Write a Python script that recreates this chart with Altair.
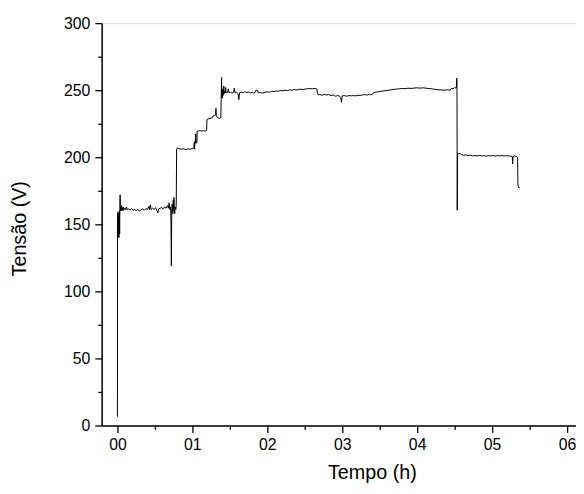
import altair as alt
import pandas as pd

hours = [
    0.000, 0.002, 0.010, 0.015, 0.020, 0.025, 0.030, 0.033, 0.036, 0.040,
    0.045, 0.050, 0.055, 0.060, 0.070, 0.075, 0.080, 0.090, 0.100, 0.110,
    0.120, 0.130, 0.150, 0.170, 0.190, 0.210, 0.230, 0.250, 0.270, 0.290,
    0.310, 0.330, 0.360, 0.380, 0.400, 0.420, 0.430, 0.440, 0.450, 0.470,
    0.490, 0.510, 0.530, 0.540, 0.550, 0.570, 0.590, 0.610, 0.630, 0.650,
    0.670, 0.680, 0.690, 0.700, 0.710, 0.715, 0.720, 0.725, 0.730, 0.740,
    0.745, 0.750, 0.755, 0.760, 0.765, 0.770, 0.780, 0.785, 0.790, 0.800,
    0.820, 0.850, 0.880, 0.910, 0.940, 0.970, 1.000, 1.020, 1.025, 1.030,
    1.035, 1.040, 1.045, 1.050, 1.060, 1.065, 1.080, 1.100, 1.120, 1.150,
    1.180, 1.190, 1.195, 1.210, 1.240, 1.270, 1.280, 1.300, 1.310, 1.315,
    1.320, 1.330, 1.340, 1.360, 1.380, 1.385, 1.390, 1.393, 1.396, 1.400,
    1.405, 1.410, 1.415, 1.420, 1.425, 1.430, 1.440, 1.445, 1.450, 1.470,
    1.480, 1.490, 1.510, 1.530, 1.550, 1.560, 1.570, 1.590, 1.610, 1.620,
    1.630, 1.650, 1.680, 1.700, 1.720, 1.750, 1.780, 1.800, 1.820, 1.840,
    1.850, 1.870, 1.880, 1.910, 1.940, 1.970, 2.000, 2.030, 2.060, 2.090,
    2.120, 2.150, 2.180, 2.210, 2.240, 2.270, 2.300, 2.330, 2.360, 2.400,
    2.440, 2.480, 2.520, 2.560, 2.600, 2.640, 2.660, 2.670, 2.680, 2.700,
    2.730, 2.760, 2.790, 2.820, 2.850, 2.880, 2.910, 2.940, 2.960, 2.980,
    2.990, 3.000, 3.030, 3.060, 3.090, 3.120, 3.150, 3.180, 3.210, 3.240,
    3.270, 3.300, 3.330, 3.360, 3.380, 3.400, 3.420, 3.440, 3.480, 3.520,
    3.560, 3.600, 3.640, 3.680, 3.720, 3.760, 3.800, 3.840, 3.880, 3.920,
    3.960, 4.000, 4.040, 4.080, 4.120, 4.160, 4.200, 4.240, 4.280, 4.320,
    4.360, 4.400, 4.440, 4.460, 4.480, 4.500, 4.520, 4.525, 4.530, 4.532,
    4.535, 4.540, 4.550, 4.570, 4.590, 4.620, 4.650, 4.680, 4.710, 4.740,
    4.770, 4.800, 4.830, 4.860, 4.890, 4.920, 4.950, 4.980, 5.010, 5.040,
    5.070, 5.100, 5.130, 5.160, 5.190, 5.220, 5.250, 5.270, 5.275, 5.280,
    5.300, 5.330, 5.340, 5.345, 5.350, 5.360, 5.370,
]

volts = [
    6.5, 159.0, 141.0, 158.0, 140.0, 160.0, 143.0, 162.0, 172.0, 160.0,
    163.0, 160.0, 164.0, 161.0, 162.5, 160.0, 163.0, 161.0, 162.0, 161.0,
    163.0, 161.0, 161.5, 160.8, 161.5, 160.5, 161.0, 160.3, 161.0, 160.0,
    160.5, 161.5, 160.5, 161.8, 161.0, 163.5, 161.0, 164.5, 161.0, 162.0,
    161.0, 162.5, 160.0, 158.5, 161.5, 162.0, 162.5, 161.5, 163.0, 162.0,
    164.0, 162.0, 166.0, 161.0, 163.0, 150.0, 119.0, 160.0, 165.0, 158.0,
    168.0, 160.0, 170.0, 162.0, 158.0, 163.0, 161.0, 164.0, 206.0, 207.0,
    206.5, 206.0, 206.3, 205.8, 206.2, 206.0, 206.5, 207.0, 211.0, 206.0,
    212.0, 210.5, 217.5, 211.0, 210.5, 219.5, 219.5, 220.0, 219.5, 219.8,
    219.5, 220.0, 228.0, 228.5, 229.0, 229.5, 231.0, 231.0, 232.0, 236.5,
    231.0, 230.0, 229.5, 229.0, 229.5, 243.0, 259.5, 245.0, 251.0, 244.0,
    250.0, 246.0, 248.0, 253.0, 247.5, 249.0, 248.0, 252.0, 248.0, 248.5,
    251.0, 248.0, 248.5, 247.8, 248.5, 251.5, 248.0, 248.5, 247.5, 243.0,
    248.0, 248.5, 248.0, 249.0, 248.2, 248.8, 248.0, 248.5, 247.8, 248.5,
    250.0, 249.8, 248.0, 248.3, 247.8, 248.5, 248.8, 248.5, 249.3, 249.0,
    249.5, 249.2, 249.8, 249.5, 250.0, 249.7, 250.2, 250.0, 250.5, 250.2,
    250.8, 250.5, 251.0, 251.2, 251.0, 251.3, 251.0, 248.0, 246.5, 246.8,
    246.3, 246.8, 246.5, 246.8, 246.0, 246.5, 245.5, 246.0, 245.8, 244.5,
    241.0, 245.8, 246.0, 245.5, 246.0, 245.8, 246.0, 245.8, 246.3, 246.0,
    246.5, 246.8, 246.3, 247.0, 246.5, 247.0, 248.0, 248.5, 248.8, 249.2,
    249.5, 249.8, 250.2, 250.5, 250.8, 251.0, 251.3, 251.2, 251.5, 251.3,
    251.6, 251.8, 251.5, 251.8, 251.5, 251.2, 251.0, 250.6, 250.3, 250.2,
    250.0, 250.3, 250.0, 251.5, 251.0, 252.0, 251.5, 253.0, 259.0, 250.0,
    160.5, 203.0, 202.5, 202.8, 202.0, 201.5, 201.8, 201.2, 201.5, 201.0,
    201.3, 201.0, 201.4, 201.0, 201.2, 200.8, 201.2, 201.0, 201.3, 200.9,
    201.2, 201.0, 201.3, 201.0, 201.2, 201.0, 200.8, 200.5, 195.0, 200.5,
    201.0, 200.5, 200.0, 180.0, 178.0, 177.0, 177.5,
]

y_ticks = [0, 25, 50, 75, 100, 125, 150, 175, 200, 225, 250, 275, 300]
x_ticks = [0.0, 0.5, 1.0, 1.5, 2.0, 2.5, 3.0, 3.5, 4.0, 4.5, 5.0, 5.5, 6.0]

df = pd.DataFrame({"i": list(range(len(hours))), "t": hours, "v": volts})

FONT = "Liberation Sans"

x_axis = alt.Axis(
    values=x_ticks,
    labelExpr="datum.value % 1 === 0 ? (datum.value < 10 ? '0' + datum.value : '' + datum.value) : ''",
    tickSize={"condition": {"test": "datum.value % 1 === 0", "value": 7}, "value": 4},
    tickColor="black", tickWidth=1.3,
    domainColor="black", domainWidth=1.5,
    labelFont=FONT, labelFontSize=16, labelColor="black", labelPadding=4,
    labelFlush=False,
    grid=False,
    title="Tempo (h)", titleFont=FONT, titleFontSize=20, titleFontWeight="normal",
    titleColor="black", titleX=274, titleY=54, titleAlign="center",
    titleBaseline="alphabetic",
)

y_axis = alt.Axis(
    values=y_ticks,
    labelExpr="datum.value % 50 === 0 ? datum.label : ''",
    tickSize={"condition": {"test": "datum.value % 50 === 0", "value": 7}, "value": 4},
    tickColor="black", tickWidth=1.3,
    domainColor="black", domainWidth=1.5,
    labelFont=FONT, labelFontSize=16, labelColor="black", labelPadding=5,
    labelFlush=False,
    grid=False,
    title="Tensão (V)", titleFont=FONT, titleFontSize=20, titleFontWeight="normal",
    titleColor="black", titleX=-77, titleY=208, titleAlign="center",
    titleBaseline="alphabetic", titleAngle=270,
)

chart = (
    alt.Chart(df)
    .mark_line(color="black", strokeWidth=1)
    .encode(
        x=alt.X("t:Q", scale=alt.Scale(domain=[-0.21, 6.12], nice=False, zero=False), axis=x_axis),
        y=alt.Y("v:Q", scale=alt.Scale(domain=[0, 300], nice=False), axis=y_axis),
        order=alt.Order("i:Q"),
    )
    .properties(
        width=481, height=408,
        autosize=alt.AutoSizeParams(type="none"),
        padding={"left": 95, "top": 12, "right": 0, "bottom": 58},
    )
    .configure_view(stroke=None)
    .configure(background="white")
)

chart.save("out.html", embed_options={"renderer": "svg", "actions": False})
